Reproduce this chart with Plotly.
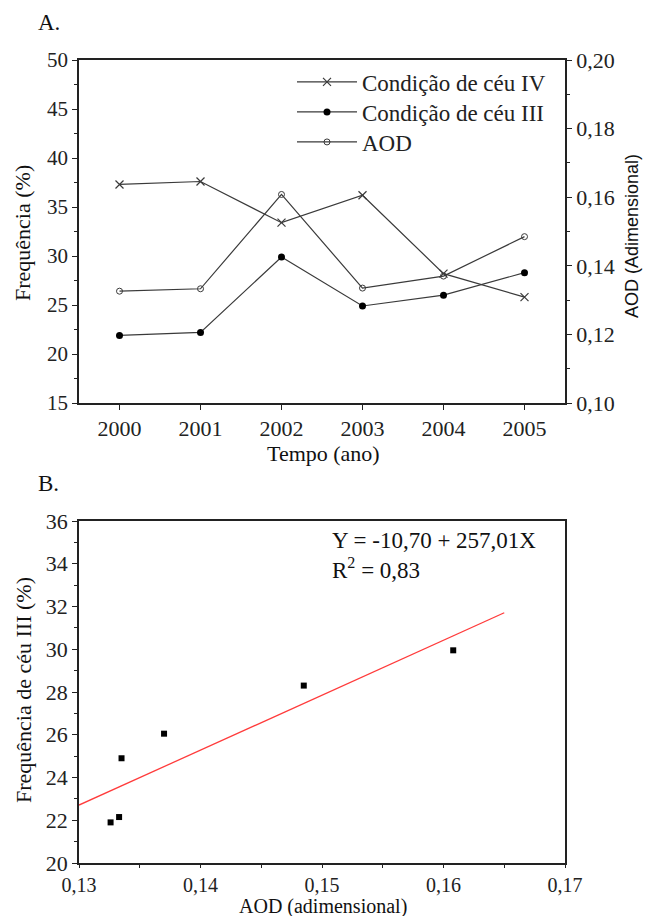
import plotly.graph_objects as go

years = [2000, 2001, 2002, 2003, 2004, 2005]
ceu_iv = [37.3, 37.6, 33.4, 36.2, 28.2, 25.8]
ceu_iii = [21.9, 22.2, 29.9, 24.9, 26.0, 28.3]
aod = [0.1326, 0.1333, 0.1608, 0.1335, 0.1370, 0.1485]

scatter_aod = [0.1326, 0.1333, 0.1335, 0.1370, 0.1485, 0.1608]
scatter_iii = [21.9, 22.15, 24.9, 26.05, 28.3, 29.95]
fit_intercept = -10.70
fit_slope = 257.01
fit_x = [0.13, 0.165]
fit_y = [fit_intercept + fit_slope * v for v in fit_x]

SERIF = "Times New Roman, Liberation Serif, serif"
LC = "#3a3a3a"

OFF = 8  # default page body margin
W, H = 651 - 2 * OFF, 924 - 2 * OFF
def px(x): return (x - OFF) / W
def py(y): return 1 - (y - OFF) / H

fig = go.Figure()
fig.add_trace(go.Scatter(x=years, y=ceu_iv, name="Condição de céu IV", mode="lines+markers",
                         line=dict(color=LC, width=1.2),
                         marker=dict(symbol="x-thin-open", size=8, color=LC, line=dict(width=1.2, color=LC)),
                         xaxis="x", yaxis="y", legend="legend"))
fig.add_trace(go.Scatter(x=years, y=ceu_iii, name="Condição de céu III", mode="lines+markers",
                         line=dict(color=LC, width=1.2),
                         marker=dict(symbol="circle", size=7, color="black"),
                         xaxis="x", yaxis="y", legend="legend2"))
fig.add_trace(go.Scatter(x=years, y=aod, name="AOD", mode="lines+markers",
                         line=dict(color=LC, width=1.2),
                         marker=dict(symbol="circle-open", size=6, color=LC, line=dict(width=1)),
                         xaxis="x", yaxis="y2", legend="legend3"))
fig.add_trace(go.Scatter(x=scatter_aod, y=scatter_iii, mode="markers", showlegend=False,
                         marker=dict(symbol="square", size=6, color="black"),
                         xaxis="x3", yaxis="y3"))
fig.add_trace(go.Scatter(x=fit_x, y=fit_y, mode="lines", showlegend=False,
                         line=dict(color="#ff3b3b", width=1.3),
                         xaxis="x3", yaxis="y3"))

def tf(s): return dict(family=SERIF, size=s, color="#222")
axbase = dict(showline=True, linecolor="#222", linewidth=1.5, ticks="outside",
              tickcolor="#222", tickwidth=1.2, showgrid=False, zeroline=False,
              automargin=False)
axcommon = dict(axbase, ticklen=5)
minor = lambda d: dict(ticks="outside", ticklen=3, dtick=d, tickcolor="#222", showgrid=False)

def leg(ycenter):
    return dict(x=px(292), y=py(ycenter), xanchor="left", yanchor="middle", itemwidth=60,
                font=dict(family=SERIF, size=23, color="#222"),
                bgcolor="rgba(0,0,0,0)", borderwidth=0)

def label(text, x, y, size=22, angle=0, family=SERIF, xanchor="center"):
    return dict(text=text, x=px(x), y=py(y), xref="paper", yref="paper", showarrow=False,
                xanchor=xanchor, yanchor="middle", textangle=angle,
                font=dict(family=family, size=size, color="#111"))

dom_x = [px(79), px(565)]
fig.update_layout(
    width=W, height=H, margin=dict(l=0, r=0, t=0, b=0, autoexpand=False),
    plot_bgcolor="white", paper_bgcolor="white", separators=",.",
    showlegend=True,
    legend=leg(82), legend2=leg(112), legend3=leg(142),
    xaxis=dict(domain=dom_x, anchor="y", range=[1999.5, 2005.5], dtick=1, mirror=True,
               tickfont=tf(22), **axcommon),
    yaxis=dict(domain=[py(403), py(60)], anchor="x", range=[15, 50], dtick=5,
               minor=minor(2.5), tickfont=tf(21), **axcommon),
    yaxis2=dict(overlaying="y", side="right", anchor="x", range=[0.10, 0.20], dtick=0.02,
                tickformat=".2f", minor=minor(0.01), tickfont=tf(22), **axcommon),
    xaxis3=dict(domain=dom_x, anchor="y3", range=[0.13, 0.17], dtick=0.01, tickformat=".2f",
                minor=minor(0.005), mirror=True, tickfont=tf(20), ticklen=3, **axbase),
    yaxis3=dict(domain=[py(863), py(521)], anchor="x3", range=[20, 36], dtick=2, mirror=True,
                minor=minor(1), tickfont=tf(22), **axcommon),
    annotations=[
        label("A.", 36, 23, size=23, xanchor="left"),
        label("B.", 36, 483, size=23, xanchor="left"),
        label("Y = -10,70 + 257,01X", 330, 540, size=23, xanchor="left"),
        label("R<sup>2</sup> = 0,83", 330, 568, size=23, xanchor="left"),
        label("Tempo (ano)", 323, 453),
        label("Frequência (%)", 23, 233, angle=-90),
        label("AOD (Adimensional)", 632, 236, size=18, angle=-90, family="Liberation Sans, Arial"),
        label("AOD (adimensional)", 323, 906, size=20),
        label("Frequência de céu III (%)", 23, 690, angle=-90),
    ],
)

fig.write_html("out.html")
